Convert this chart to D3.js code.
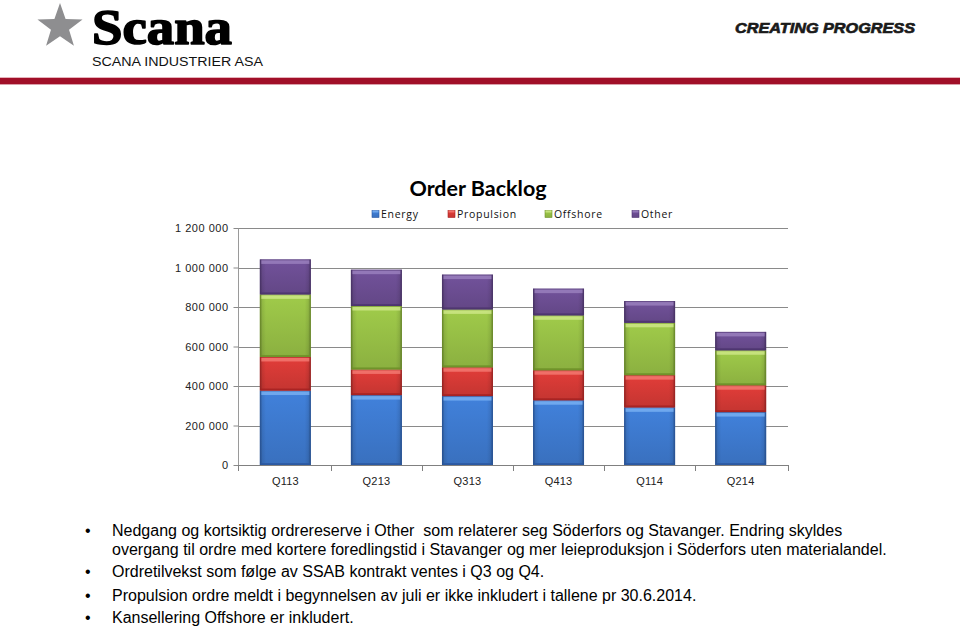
<!DOCTYPE html>
<html><head><meta charset="utf-8">
<script src="https://cdn.jsdelivr.net/npm/d3@7"></script>
<style>body{margin:0;background:#fff;overflow:hidden}</style>
</head><body>
<svg id="c" width="960" height="627"></svg>
<script>
// ---- data ----
const categories = ["Q113","Q213","Q313","Q413","Q114","Q214"];
const seriesNames = ["Energy","Propulsion","Offshore","Other"];
const energy     = [377000, 354000, 349000, 328000, 292000, 268000];
const propulsion = [170000, 130000, 146000, 152000, 163000, 136000];
const offshore   = [317000, 321000, 293000, 278000, 265000, 177000];
const other      = [177000, 184000, 176000, 135000, 110000,  93000];
const yTicks = [0, 200000, 400000, 600000, 800000, 1000000, 1200000];
const yTickLabels = ["0","200 000","400 000","600 000","800 000","1 000 000","1 200 000"];
const chartTitle = "Order Backlog";
const bulletLines = [
  {b:true,  t:"Nedgang og kortsiktig ordrereserve i Other\u00a0 som relaterer seg Söderfors og Stavanger. Endring skyldes"},
  {b:false, t:"overgang til ordre med kortere foredlingstid i Stavanger og mer leieproduksjon i Söderfors uten materialandel."},
  {b:true,  t:"Ordretilvekst som følge av SSAB kontrakt ventes i Q3 og Q4."},
  {b:true,  t:"Propulsion ordre meldt i begynnelsen av juli er ikke inkludert i tallene pr 30.6.2014."},
  {b:true,  t:"Kansellering Offshore er inkludert."}
];

// ---- styles ----
const colors = {
  Energy:     {base:"#3e7ad0", light:"#7ab2f2", dark:"#2a57a0"},
  Propulsion: {base:"#d63a36", light:"#f47c74", dark:"#a52222"},
  Offshore:   {base:"#98c046", light:"#d0e88a", dark:"#6d9028"},
  Other:      {base:"#6c4e93", light:"#9c82bf", dark:"#4c346e"}
};

const svg = d3.select("#c");
const defs = svg.append("defs");

seriesNames.forEach(n => {
  const c = colors[n];
  const g = defs.append("linearGradient").attr("id","g"+n).attr("x1",0).attr("y1",0).attr("x2",0).attr("y2",1);
  g.append("stop").attr("offset","0").attr("stop-color",d3.color(c.base).brighter(0.15));
  g.append("stop").attr("offset","1").attr("stop-color",d3.color(c.base).darker(0.25));
});
const hs = defs.append("linearGradient").attr("id","hs").attr("x1",0).attr("y1",0).attr("x2",1).attr("y2",0);
[[0,0.35],[0.05,0.08],[0.12,0],[0.88,0],[0.95,0.08],[1,0.35]].forEach(s=>
  hs.append("stop").attr("offset",s[0]).attr("stop-color","#000").attr("stop-opacity",s[1]));

// ---- header ----
const star = d3.range(10).map(i => {
  const r = i % 2 === 0 ? 23.7 : 9.5;
  const a = -Math.PI/2 + i*Math.PI/5;
  return [60 + r*Math.cos(a), 26.7 + r*Math.sin(a)];
});
svg.append("path").attr("d", d3.line()(star) + "Z").attr("fill","#8e8e90");
svg.append("text").attr("x",92).attr("y",43.5).text("Scana")
  .attr("font-family","Liberation Serif").attr("font-weight","bold").attr("font-size",50)
  .attr("stroke","#000").attr("stroke-width",1.6).attr("stroke-linejoin","round")
  .attr("textLength",140).attr("lengthAdjust","spacingAndGlyphs").attr("fill","#000");
svg.append("text").attr("x",92).attr("y",66).text("SCANA INDUSTRIER ASA")
  .attr("font-family","Liberation Sans").attr("font-size",12.5)
  .attr("textLength",171).attr("lengthAdjust","spacingAndGlyphs").attr("fill","#111");
svg.append("text").attr("x",735).attr("y",33).text("CREATING PROGRESS")
  .attr("font-family","Liberation Sans").attr("font-weight","bold").attr("font-style","italic")
  .attr("font-size",15.5).attr("stroke","#1a1a1a").attr("stroke-width",0.7)
  .attr("textLength",180).attr("lengthAdjust","spacingAndGlyphs").attr("fill","#1a1a1a");
svg.append("rect").attr("x",0).attr("y",77).attr("width",960).attr("height",1).attr("fill","#e6b3bb");
svg.append("rect").attr("x",0).attr("y",78).attr("width",960).attr("height",6).attr("fill","#a10f28");
svg.append("rect").attr("x",0).attr("y",84).attr("width",960).attr("height",1).attr("fill","#d9a0aa");

// ---- chart ----
const x = d3.scaleBand().domain(categories).range([238, 788]).paddingInner(0.44).paddingOuter(0.24);
const y = d3.scaleLinear().domain([0, 1200000]).range([465, 228]);

svg.append("g").selectAll("line").data(yTicks.slice(1)).join("line")
  .attr("x1",238).attr("x2",788).attr("y1",d=>Math.round(y(d))+0.5).attr("y2",d=>Math.round(y(d))+0.5)
  .attr("stroke","#8a8a8a").attr("stroke-width",1);
svg.append("line").attr("x1",238.5).attr("x2",238.5).attr("y1",y(1200000)).attr("y2",y(0))
  .attr("stroke","#9a9a9a");

const yAxis = d3.axisLeft(y).tickValues(yTicks).tickFormat((d,i)=>yTickLabels[i]).tickSize(5).tickPadding(5);
const yg = svg.append("g").attr("transform","translate(238.5,0)").call(yAxis);
yg.select(".domain").remove();
yg.selectAll(".tick line").attr("stroke","#8a8a8a");
yg.selectAll("text").attr("font-family","Liberation Sans").attr("font-size",11).attr("letter-spacing",0.5).attr("fill","#222");

const rows = categories.map((c,i)=>({cat:c, Energy:energy[i], Propulsion:propulsion[i], Offshore:offshore[i], Other:other[i]}));
const stack = d3.stack().keys(seriesNames)(rows);

const bw = x.bandwidth();
stack.forEach(layer => {
  const n = layer.key, c = colors[n];
  const g = svg.append("g");
  layer.forEach(d => {
    const x0 = x(d.data.cat), y0 = y(d[1]), h = y(d[0]) - y(d[1]);
    g.append("rect").attr("x",x0).attr("y",y0).attr("width",bw).attr("height",h).attr("fill","url(#g"+n+")");
    g.append("rect").attr("x",x0).attr("y",y0).attr("width",bw).attr("height",h).attr("fill","url(#hs)");
    g.append("rect").attr("x",x0+1.5).attr("y",y0+0.5).attr("width",bw-3).attr("height",4).attr("fill",c.light).attr("opacity",0.8);
    g.append("rect").attr("x",x0+1).attr("y",y0+h-2).attr("width",bw-2).attr("height",2).attr("fill",c.dark).attr("opacity",0.8);
    g.append("rect").attr("x",x0+0.5).attr("y",y0+0.5).attr("width",bw-1).attr("height",h-1)
      .attr("fill","none").attr("stroke",c.dark).attr("stroke-opacity",0.55);
  });
});

svg.append("line").attr("x1",238).attr("x2",788).attr("y1",465.5).attr("y2",465.5).attr("stroke","#808080");
const step = x.step();
const bounds = [238].concat(categories.slice(0,-1).map(c => x(c) + bw + step*x.paddingInner()/2)).concat([788]);
svg.append("g").selectAll("line").data(bounds).join("line")
  .attr("x1",d=>Math.round(d)+0.5).attr("x2",d=>Math.round(d)+0.5).attr("y1",465).attr("y2",471)
  .attr("stroke","#808080");
const xAxis = d3.axisBottom(x).tickSize(0).tickPadding(12);
const xg = svg.append("g").attr("transform","translate(0,465.5)").call(xAxis);
xg.select(".domain").remove();
xg.selectAll("text").attr("font-family","Liberation Sans").attr("font-size",11).attr("letter-spacing",0.2).attr("fill","#222");

svg.append("text").attr("x",478).attr("y",196).attr("text-anchor","middle").text(chartTitle)
  .attr("font-family","Lato").attr("font-weight","bold").attr("font-size",21.5).attr("fill","#000");

const legX = [372, 448, 545, 632];
const lg = svg.append("g");
seriesNames.forEach((n,i)=>{
  lg.append("rect").attr("x",legX[i]).attr("y",210.5).attr("width",7).attr("height",7)
    .attr("fill","url(#g"+n+")").attr("stroke",colors[n].dark).attr("stroke-width",0.6);
  lg.append("rect").attr("x",legX[i]+0.5).attr("y",210.5).attr("width",6).attr("height",2).attr("fill",colors[n].light).attr("opacity",0.8);
  lg.append("text").attr("x",legX[i]+9).attr("y",218).text(n)
    .attr("font-family","Open Sans").attr("font-size",10.5).attr("letter-spacing",0.7).attr("fill","#111");
});

const baselines = [535.5, 554.5, 576.5, 600.5, 622.5];
const bg = svg.append("g").attr("font-family","Liberation Sans").attr("font-size",16).attr("fill","#000");
bulletLines.forEach((l,i)=>{
  if (l.b) bg.append("text").attr("x",85).attr("y",baselines[i]).text("\u2022");
  bg.append("text").attr("x",112).attr("y",baselines[i]).text(l.t);
});
</script>
</body></html>
